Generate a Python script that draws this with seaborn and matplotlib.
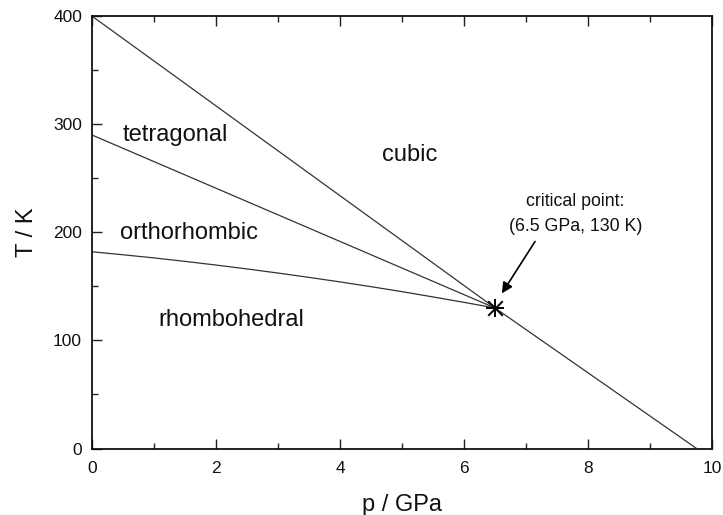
import matplotlib
matplotlib.use("Agg")
import matplotlib.pyplot as plt
import seaborn as sns
import pandas as pd
from matplotlib.ticker import MultipleLocator

# Phase boundaries (p in GPa, T in K)
cubic_p = [0.0, 6.5, 9.75]
cubic_T = [400, 130, 0]
tetra_p = [0.0, 6.5]
tetra_T = [290, 130]
ortho_p = [0.0, 0.5, 1.0, 1.5, 2.0, 2.5, 3.0, 3.5, 4.0, 4.5, 5.0, 5.5, 6.0, 6.5]
ortho_T = [182, 179.2, 176.3, 173.1, 169.7, 166.1, 162.3, 158.3, 154.1, 149.7,
           145.1, 140.2, 135.2, 130]
crit_p = [6.5]
crit_T = [130]

phase_names = ["tetragonal", "orthorhombic", "rhombohedral", "cubic"]
phase_p = [1.34, 1.56, 2.25, 5.13]
phase_T = [290, 199, 119, 271]

x_ticks = [0, 2, 4, 6, 8, 10]
y_ticks = [0, 100, 200, 300, 400]

sns.set_theme(style="ticks")
plt.rcParams["font.family"] = ["Liberation Sans", "DejaVu Sans"]

fig = plt.figure(figsize=(7.23, 5.15), dpi=100)
ax = fig.add_axes([0.127, 0.129, 0.858, 0.840])

line_kw = dict(color="#333333", linewidth=0.9, sort=False, ax=ax)
for p, T in [(cubic_p, cubic_T), (tetra_p, tetra_T), (ortho_p, ortho_T)]:
    df = pd.DataFrame({"p": p, "T": T})
    sns.lineplot(data=df, x="p", y="T", **line_kw)

crit_df = pd.DataFrame({"p": crit_p, "T": crit_T})
sns.scatterplot(data=crit_df, x="p", y="T", marker="+", s=170, color="black",
                linewidth=1.4, ax=ax, zorder=5)
sns.scatterplot(data=crit_df, x="p", y="T", marker="x", s=110, color="black",
                linewidth=1.4, ax=ax, zorder=5)

for name, p, T in zip(phase_names, phase_p, phase_T):
    ax.text(p, T, name, fontsize=17, ha="center", va="center", color="#111111")

ax.text(7.8, 228, "critical point:", ha="center", va="center", fontsize=12.8,
        color="#111111")
ax.text(7.8, 205, "(6.5 GPa, 130 K)", ha="center", va="center", fontsize=12.8,
        color="#111111")
ax.annotate("", xy=(6.61, 143.5), xytext=(7.145, 191.5),
            arrowprops=dict(arrowstyle="-|>", color="black", lw=1.2,
                            mutation_scale=16, shrinkA=0, shrinkB=0))

ax.set_xlim(0, 10)
ax.set_ylim(0, 400)
ax.set_xticks(x_ticks)
ax.set_yticks(y_ticks)
ax.xaxis.set_minor_locator(MultipleLocator(1))
ax.yaxis.set_minor_locator(MultipleLocator(50))
ax.tick_params(which="both", direction="in", top=True, right=False,
               width=1.0, color="#222222", labelsize=12.5, labelcolor="#111111")
ax.tick_params(which="major", length=7)
ax.tick_params(which="minor", length=4)
ax.tick_params(axis="x", pad=9)
ax.tick_params(axis="y", pad=7)
for s in ax.spines.values():
    s.set_linewidth(1.3)
    s.set_color("#111111")

ax.set_xlabel("p / GPa", fontsize=17, labelpad=13, color="#111111")
ax.set_ylabel("T / K", fontsize=17, labelpad=11, color="#111111")

fig.savefig("out.png", dpi=100)
